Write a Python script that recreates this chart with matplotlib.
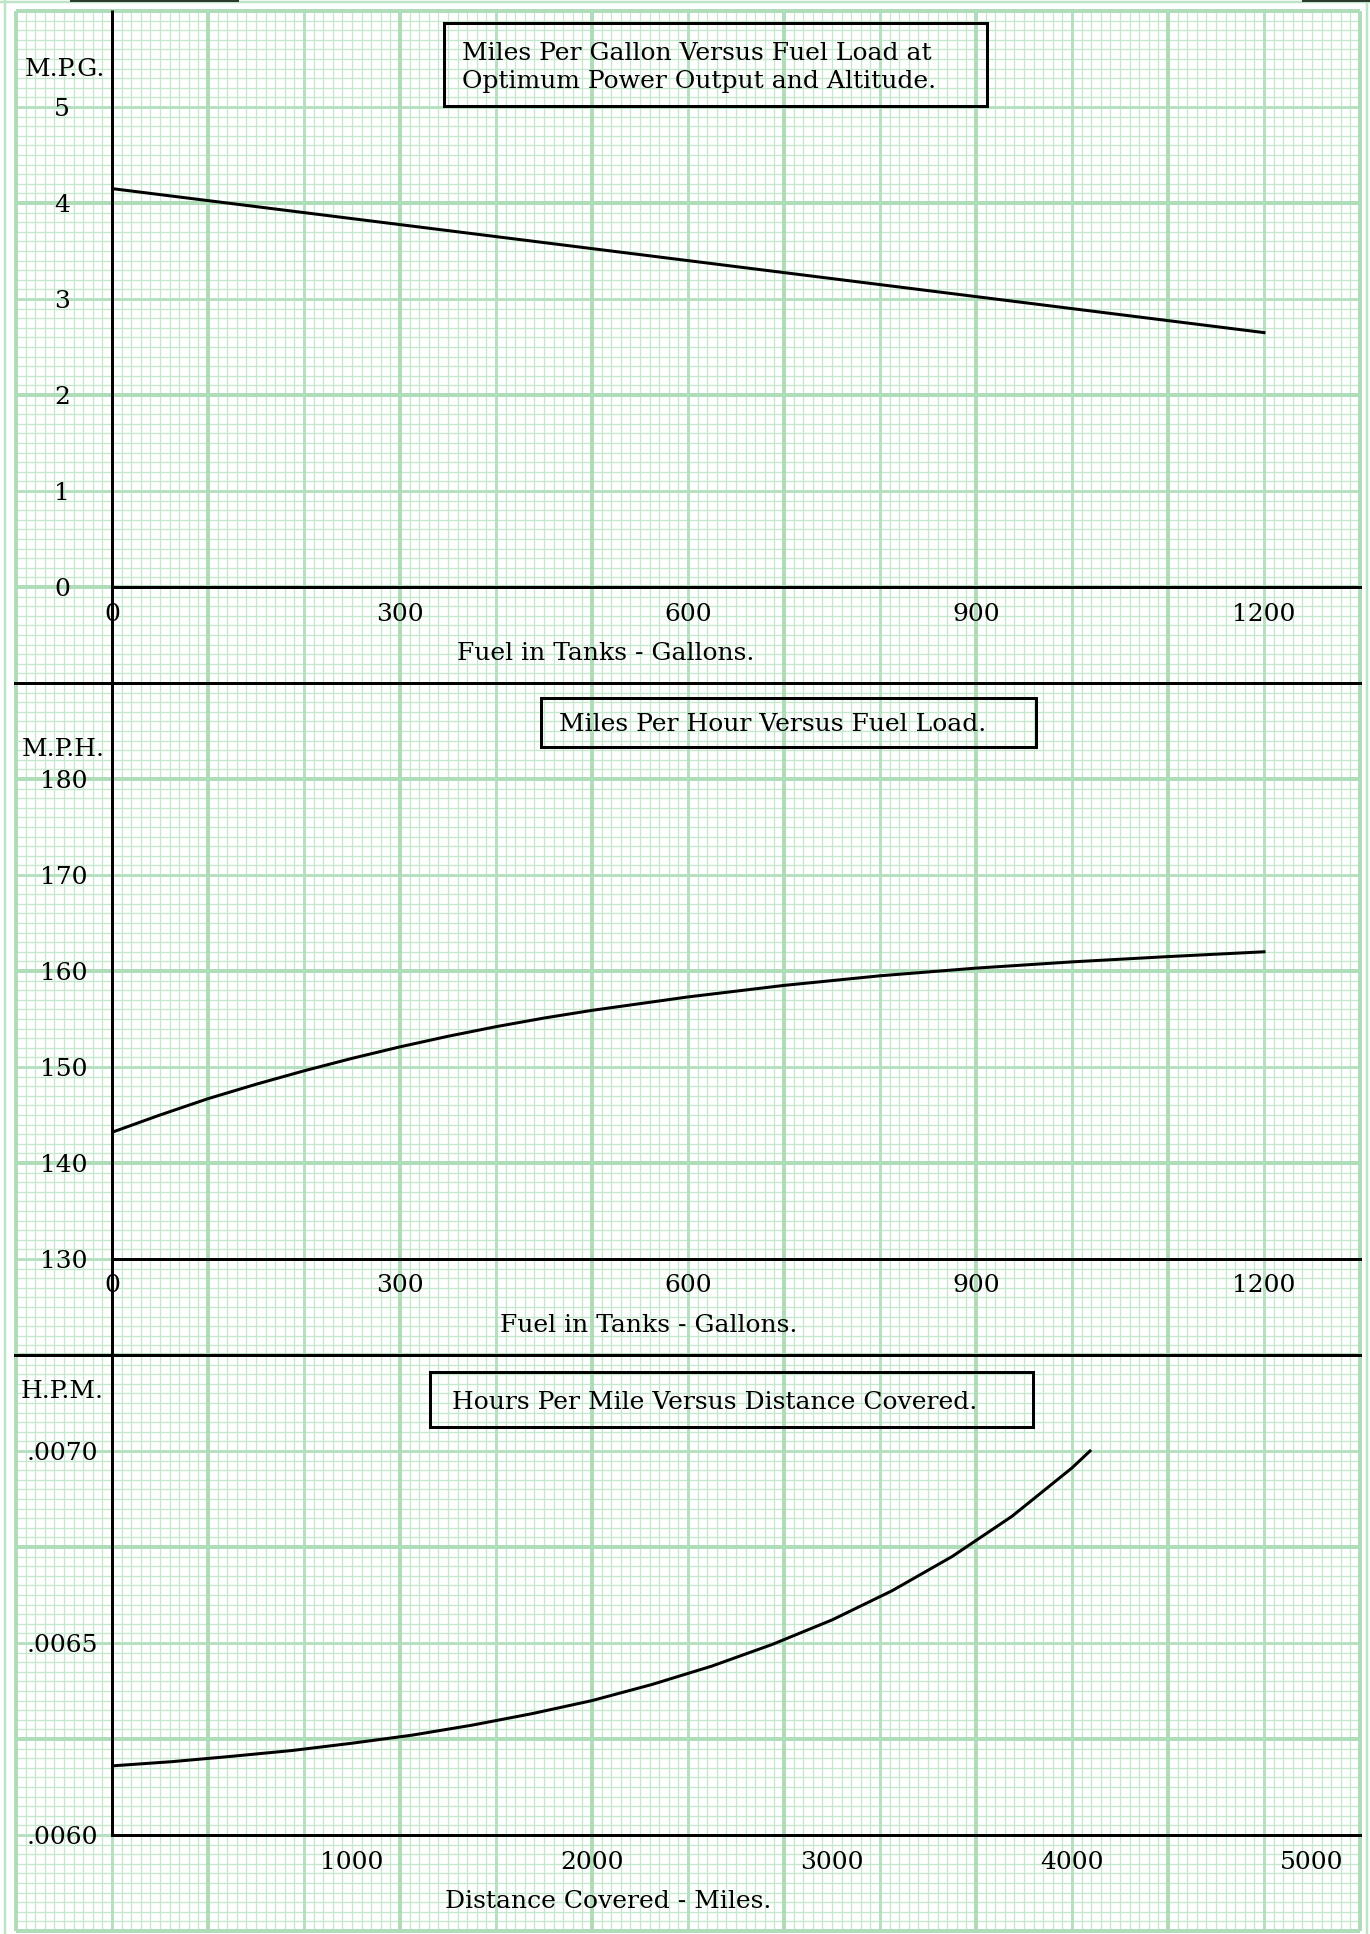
import numpy as np
import matplotlib
matplotlib.use("Agg")
import matplotlib.pyplot as plt
from matplotlib.collections import LineCollection
from matplotlib.patches import Rectangle

# ---- data -------------------------------------------------------------
gallons = [0, 100, 200, 300, 400, 500, 600, 700, 800, 900, 1000, 1100, 1200]
mpg = [4.15, 4.025, 3.90, 3.775, 3.65, 3.525, 3.40, 3.275, 3.15, 3.025, 2.90, 2.775, 2.65]

mph_gallons = [0, 50, 100, 150, 200, 250, 300, 350, 400, 450, 500, 550, 600,
               700, 800, 900, 1000, 1100, 1200]
mph = [143.2, 145.0, 146.7, 148.2, 149.6, 150.9, 152.1, 153.2, 154.2, 155.1, 155.9,
       156.6, 157.3, 158.5, 159.5, 160.3, 160.95, 161.5, 162.0]

miles = [0, 250, 500, 750, 1000, 1250, 1500, 1750, 2000, 2250, 2500, 2750,
         3000, 3250, 3500, 3750, 4000, 4075]
hpm = [0.006180, 0.006191, 0.006205, 0.006220, 0.006239, 0.006260, 0.006286,
       0.006316, 0.006350, 0.006392, 0.006440, 0.006496, 0.006560, 0.006636,
       0.006725, 0.006830, 0.006956, 0.007000]

mpg_ticks = [0, 1, 2, 3, 4, 5]
mph_ticks = [130, 140, 150, 160, 170, 180]
hpm_ticks = [0.0060, 0.0065, 0.0070]
hpm_tick_labels = [".0060", ".0065", ".0070"]
gal_ticks = [0, 300, 600, 900, 1200]
mile_ticks = [1000, 2000, 3000, 4000, 5000]

# ---- page geometry (pixels) ---------------------------------------------
W, H = 1370, 1934
DPI = 100
PX = 72.0 / DPI          # points per pixel
FONT = "DejaVu Serif"
FS = 18

plt.rcParams["font.family"] = [FONT, "DejaVu Sans"]

fig = plt.figure(figsize=(W / DPI, H / DPI), dpi=DPI)
fig.patch.set_facecolor("white")

bg = fig.add_axes([0, 0, 1, 1])
bg.set_xlim(0, W)
bg.set_ylim(H, 0)
bg.axis("off")

# graph paper
GX0, GX1 = 16.0, 1360.0
GY0, GY1 = 11.0, 1931.0
STEP = 9.6
minor_c = "#c4e8cc"
mid_c = "#b6e1c0"
heavy_c = "#afdcb9"

segs = {"minor": [], "mid": [], "heavy": []}
nx = int(round((GX1 - GX0) / STEP))
ny = int(round((GY1 - GY0) / STEP))
for i in range(nx + 1):
    x = GX0 + i * STEP
    kind = "minor" if i % 10 else ("heavy" if (i // 10) % 2 == 0 else "mid")
    segs[kind].append([(x, GY0), (x, GY1)])
for j in range(ny + 1):
    y = GY0 + j * STEP
    kind = "minor" if j % 10 else ("heavy" if (j // 10) % 2 == 0 else "mid")
    segs[kind].append([(GX0, y), (GX1, y)])

bg.add_collection(LineCollection(segs["minor"], colors=minor_c, linewidths=1.3 * PX, zorder=1))
bg.add_collection(LineCollection(segs["mid"], colors=mid_c, linewidths=3.0 * PX, zorder=2))
bg.add_collection(LineCollection(segs["heavy"], colors=heavy_c, linewidths=4.0 * PX, zorder=2))

# outer paper frame and scanner edges
frame_c = "#bde4c6"
bg.plot([5, 5], [0, H], color=frame_c, lw=2.5 * PX, zorder=1)
bg.plot([1367, 1367], [0, H], color=frame_c, lw=2.5 * PX, zorder=1)
bg.plot([0, W], [1.5, 1.5], color=frame_c, lw=2.5 * PX, zorder=1)
bg.add_patch(Rectangle((70, 0), 169, 2.2, color="#2c3a2f", lw=0, zorder=3))
bg.add_patch(Rectangle((1302, 0), 68, 2.2, color="#2c3a2f", lw=0, zorder=3))

BLACK_LW = 3.0 * PX
# common vertical axis and panel separators
bg.plot([112, 112], [10, 1835], color="black", lw=BLACK_LW, zorder=5, solid_capstyle="butt")
bg.plot([15, GX1], [683, 683], color="black", lw=BLACK_LW, zorder=5)
bg.plot([15, GX1], [1355, 1355], color="black", lw=BLACK_LW, zorder=5)


def panel(top, bottom, left=112, right=1360):
    ax = fig.add_axes([left / W, 1 - bottom / H, (right - left) / W, (bottom - top) / H])
    ax.patch.set_visible(False)
    for s in ("top", "right", "left"):
        ax.spines[s].set_visible(False)
    ax.spines["bottom"].set_linewidth(BLACK_LW)
    ax.spines["bottom"].set_zorder(6)
    ax.tick_params(length=0, labelsize=FS)
    return ax


def style_ticks(ax, ypad_px, xpad_px):
    ax.tick_params(axis="y", pad=ypad_px * PX)
    ax.tick_params(axis="x", pad=xpad_px * PX)
    for lbl in ax.get_yticklabels():
        lbl.set_horizontalalignment("center")
        lbl.set_fontfamily(FONT)
    for lbl in ax.get_xticklabels():
        lbl.set_fontfamily(FONT)


# Panel 1: miles per gallon
ax1 = panel(11, 587)
ax1.set_xlim(0, 1300)
ax1.set_ylim(0, 6.0)
ax1.plot(gallons, mpg, color="black", lw=BLACK_LW, zorder=7)
ax1.set_xticks(gal_ticks)
ax1.set_xticklabels([str(v) for v in gal_ticks])
ax1.set_yticks(mpg_ticks)
ax1.set_yticklabels([str(v) for v in mpg_ticks])
style_ticks(ax1, 50, 16)

# Panel 2: miles per hour
ax2 = panel(683, 1259)
ax2.set_xlim(0, 1300)
ax2.set_ylim(130, 190)
ax2.plot(mph_gallons, mph, color="black", lw=BLACK_LW, zorder=7)
ax2.set_xticks(gal_ticks)
ax2.set_xticklabels([str(v) for v in gal_ticks])
ax2.set_yticks(mph_ticks)
ax2.set_yticklabels([str(v) for v in mph_ticks])
style_ticks(ax2, 48, 15)

# Panel 3: hours per mile
ax3 = panel(1355, 1835)
ax3.set_xlim(0, 5200)
ax3.set_ylim(0.0060, 0.00725)
ax3.plot(miles, hpm, color="black", lw=BLACK_LW, zorder=7)
ax3.set_xticks(mile_ticks)
ax3.set_xticklabels([str(v) for v in mile_ticks])
ax3.set_yticks(hpm_ticks)
ax3.set_yticklabels(hpm_tick_labels)
style_ticks(ax3, 50, 16)

# axis captions
txt = dict(fontsize=FS, family=FONT, color="black", zorder=8)
bg.text(65, 69, "M.P.G.", ha="center", va="center", **txt)
bg.text(63, 749, "M.P.H.", ha="center", va="center", **txt)
bg.text(62, 1391, "H.P.M.", ha="center", va="center", **txt)
bg.text(606, 654, "Fuel in Tanks - Gallons.", ha="center", va="center", **txt)
bg.text(649, 1326, "Fuel in Tanks - Gallons.", ha="center", va="center", **txt)
bg.text(608, 1901, "Distance Covered - Miles.", ha="center", va="center", **txt)

# boxed titles (open boxes, paper shows through)
box_kw = dict(fill=False, edgecolor="black", lw=BLACK_LW, zorder=6)
bg.add_patch(Rectangle((444, 23), 543, 83, **box_kw))
bg.text(462, 60, "Miles Per Gallon Versus Fuel Load at", ha="left", va="baseline", **txt)
bg.text(462, 88, "Optimum Power Output and Altitude.", ha="left", va="baseline", **txt)

bg.add_patch(Rectangle((541, 698), 495, 49, **box_kw))
bg.text(559, 731, "Miles Per Hour Versus Fuel Load.", ha="left", va="baseline", **txt)

bg.add_patch(Rectangle((430, 1372), 603, 55, **box_kw))
bg.text(452, 1409, "Hours Per Mile Versus Distance Covered.", ha="left", va="baseline", **txt)

fig.savefig("out.png", dpi=DPI, facecolor="white")
